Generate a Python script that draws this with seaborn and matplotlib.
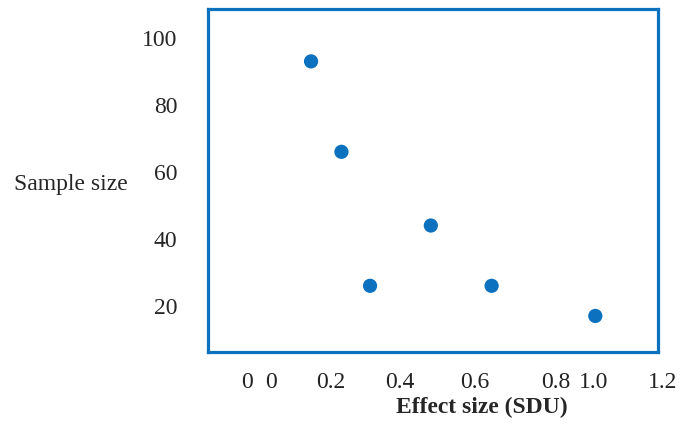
import matplotlib
matplotlib.use("Agg")
import matplotlib.pyplot as plt
import pandas as pd
import seaborn as sns

sns.set_style("white")
plt.rcParams["font.family"] = ["Liberation Serif", "DejaVu Serif"]

BLUE = "#0C71BE"

# data
effect_size = [0.145, 0.23, 0.31, 0.48, 0.65, 0.94]
sample_size = [93, 66, 26, 44, 26, 17]

# the x tick labels sit at odd spots in the original
xtick_pos = [-0.034, 0.034, 0.2, 0.394, 0.602, 0.828, 0.934, 1.127]
xtick_lab = ["0", "0", "0.2", "0.4", "0.6", "0.8", "1.0", "1.2"]
ytick_pos = [20, 40, 60, 80, 100]

df = pd.DataFrame({"effect": effect_size, "n": sample_size})

fig = plt.figure(figsize=(6.8, 4.25), dpi=100)
ax = fig.add_axes([0.306, 0.172, 0.662, 0.807])

sns.scatterplot(data=df, x="effect", y="n", color=BLUE, s=105,
                edgecolor="none", ax=ax)

ax.set_xlim(-0.143, 1.116)
ax.set_ylim(6.27, 108.66)

for sp in ax.spines.values():
    sp.set_visible(True)
    sp.set_color(BLUE)
    sp.set_linewidth(2.3)

ax.set_xticks([])
ax.set_yticks(ytick_pos)
ax.set_yticklabels([str(v) for v in ytick_pos], fontsize=17)
ax.tick_params(axis="y", length=0, pad=22)

trans = ax.get_xaxis_transform()
for pos, lab in zip(xtick_pos, xtick_lab):
    ax.text(pos, -0.0904, lab, transform=trans, ha="center", va="center",
            fontsize=17, color="#222222", clip_on=False)

ax.set_xlabel("Effect size (SDU)", fontsize=17, fontweight="bold")
ax.xaxis.set_label_coords(0.608, -0.163)
ax.xaxis.label.set_va("center")

ax.set_ylabel("Sample size", fontsize=17, rotation=0, ha="right", va="center")
ax.yaxis.set_label_coords(-0.178, 0.487)

fig.savefig("out.png", dpi=100)
